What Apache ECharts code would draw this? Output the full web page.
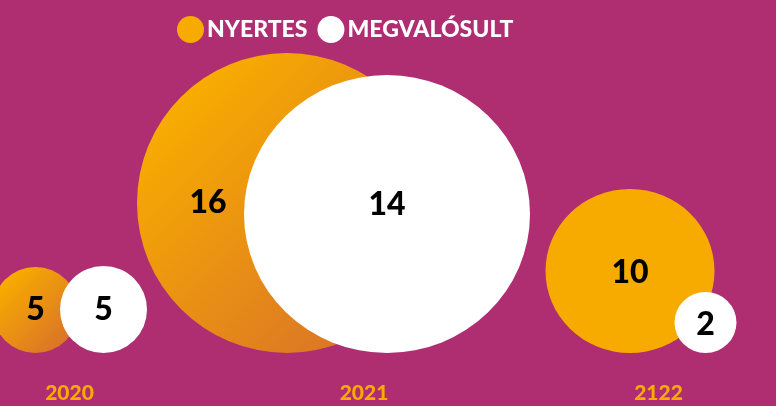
<!DOCTYPE html>
<html lang="hu">
<head>
<meta charset="utf-8" />
<title>Nyertes / megvalósult</title>
<style>
  html, body { margin: 0; padding: 0; background: #AF2E72; }
  #chart { width: 776px; height: 406px; }
</style>
</head>
<body>
<div id="chart"></div>
<script src="https://cdn.jsdelivr.net/npm/echarts@6/dist/echarts.min.js"></script>
<script>
// adatok
const years = ['2020', '2021', '2122'];
const nyertes = [5, 16, 10];
const megvalosult = [5, 14, 2];

// buborekok megjelenese (meret, eltolas a kategoria kozeptol)
const orangeSize = [[86, 86], [300, 300], [169, 164]];
const orangeShift = [-34, -77, -28.5];
const orangeLabelShift = [[0, 0], [-79, 0], [0, 2]];
const orangeGradient = [true, true, false];
const whiteSize = [[87, 87], [286, 278], [62, 61]];
const whiteShift = [34, 23, 47];
const whiteLabelShift = [[0, 0], [0, -9], [0, 2]];

const ORANGE = '#F7AA00';
const chart = echarts.init(document.getElementById('chart'));

function orangeFill(grad) {
  if (!grad) return ORANGE;
  return new echarts.graphic.LinearGradient(0, 0, 1, 1, [
    { offset: 0.15, color: '#F8AC00' },
    { offset: 1, color: '#D4692F' }
  ]);
}

const orangeData = nyertes.map(function (v, i) {
  return {
    value: [i, 0, v],
    symbolSize: orangeSize[i],
    symbolOffset: [orangeShift[i], -orangeSize[i][1] / 2],
    itemStyle: { color: orangeFill(orangeGradient[i]) },
    label: { offset: orangeLabelShift[i] }
  };
});
const whiteData = megvalosult.map(function (v, i) {
  return {
    value: [i, 0, v],
    symbolSize: whiteSize[i],
    symbolOffset: [whiteShift[i], -whiteSize[i][1] / 2],
    label: { offset: whiteLabelShift[i] }
  };
});

const labelStyle = {
  show: true,
  position: 'inside',
  color: '#000',
  fontFamily: 'Lato',
  fontWeight: 900,
  fontSize: 32,
  formatter: function (p) { return p.value[2]; }
};

chart.setOption({
  backgroundColor: '#AF2E72',
  animation: false,
  legend: {
    left: 172,
    top: 11,
    itemWidth: 27,
    itemHeight: 27,
    itemGap: 10,
    icon: 'circle',
    textStyle: {
      color: '#fff',
      fontFamily: 'Lato',
      fontWeight: 900,
      fontSize: 23,
      padding: [0, 0, 0, -2]
    },
    data: [
      { name: 'NYERTES', itemStyle: { color: ORANGE } },
      { name: 'MEGVALÓSULT', itemStyle: { color: '#fff' } }
    ]
  },
  grid: { left: 69.5, right: 117.5, top: 0, bottom: 53 },
  xAxis: {
    type: 'category',
    data: years,
    boundaryGap: false,
    axisLine: { show: false },
    axisTick: { show: false },
    splitLine: { show: false },
    axisLabel: {
      margin: 30,
      color: ORANGE,
      fontFamily: 'Lato',
      fontWeight: 900,
      fontSize: 21
    }
  },
  yAxis: { type: 'value', min: 0, max: 1, show: false },
  series: [
    {
      name: 'NYERTES',
      type: 'scatter',
      symbol: 'circle',
      itemStyle: { color: ORANGE, opacity: 1 },
      label: labelStyle,
      data: orangeData,
      z: 2
    },
    {
      name: 'MEGVALÓSULT',
      type: 'scatter',
      symbol: 'circle',
      itemStyle: { color: '#fff', opacity: 1 },
      label: labelStyle,
      data: whiteData,
      z: 3
    }
  ]
});
</script>
</body>
</html>
